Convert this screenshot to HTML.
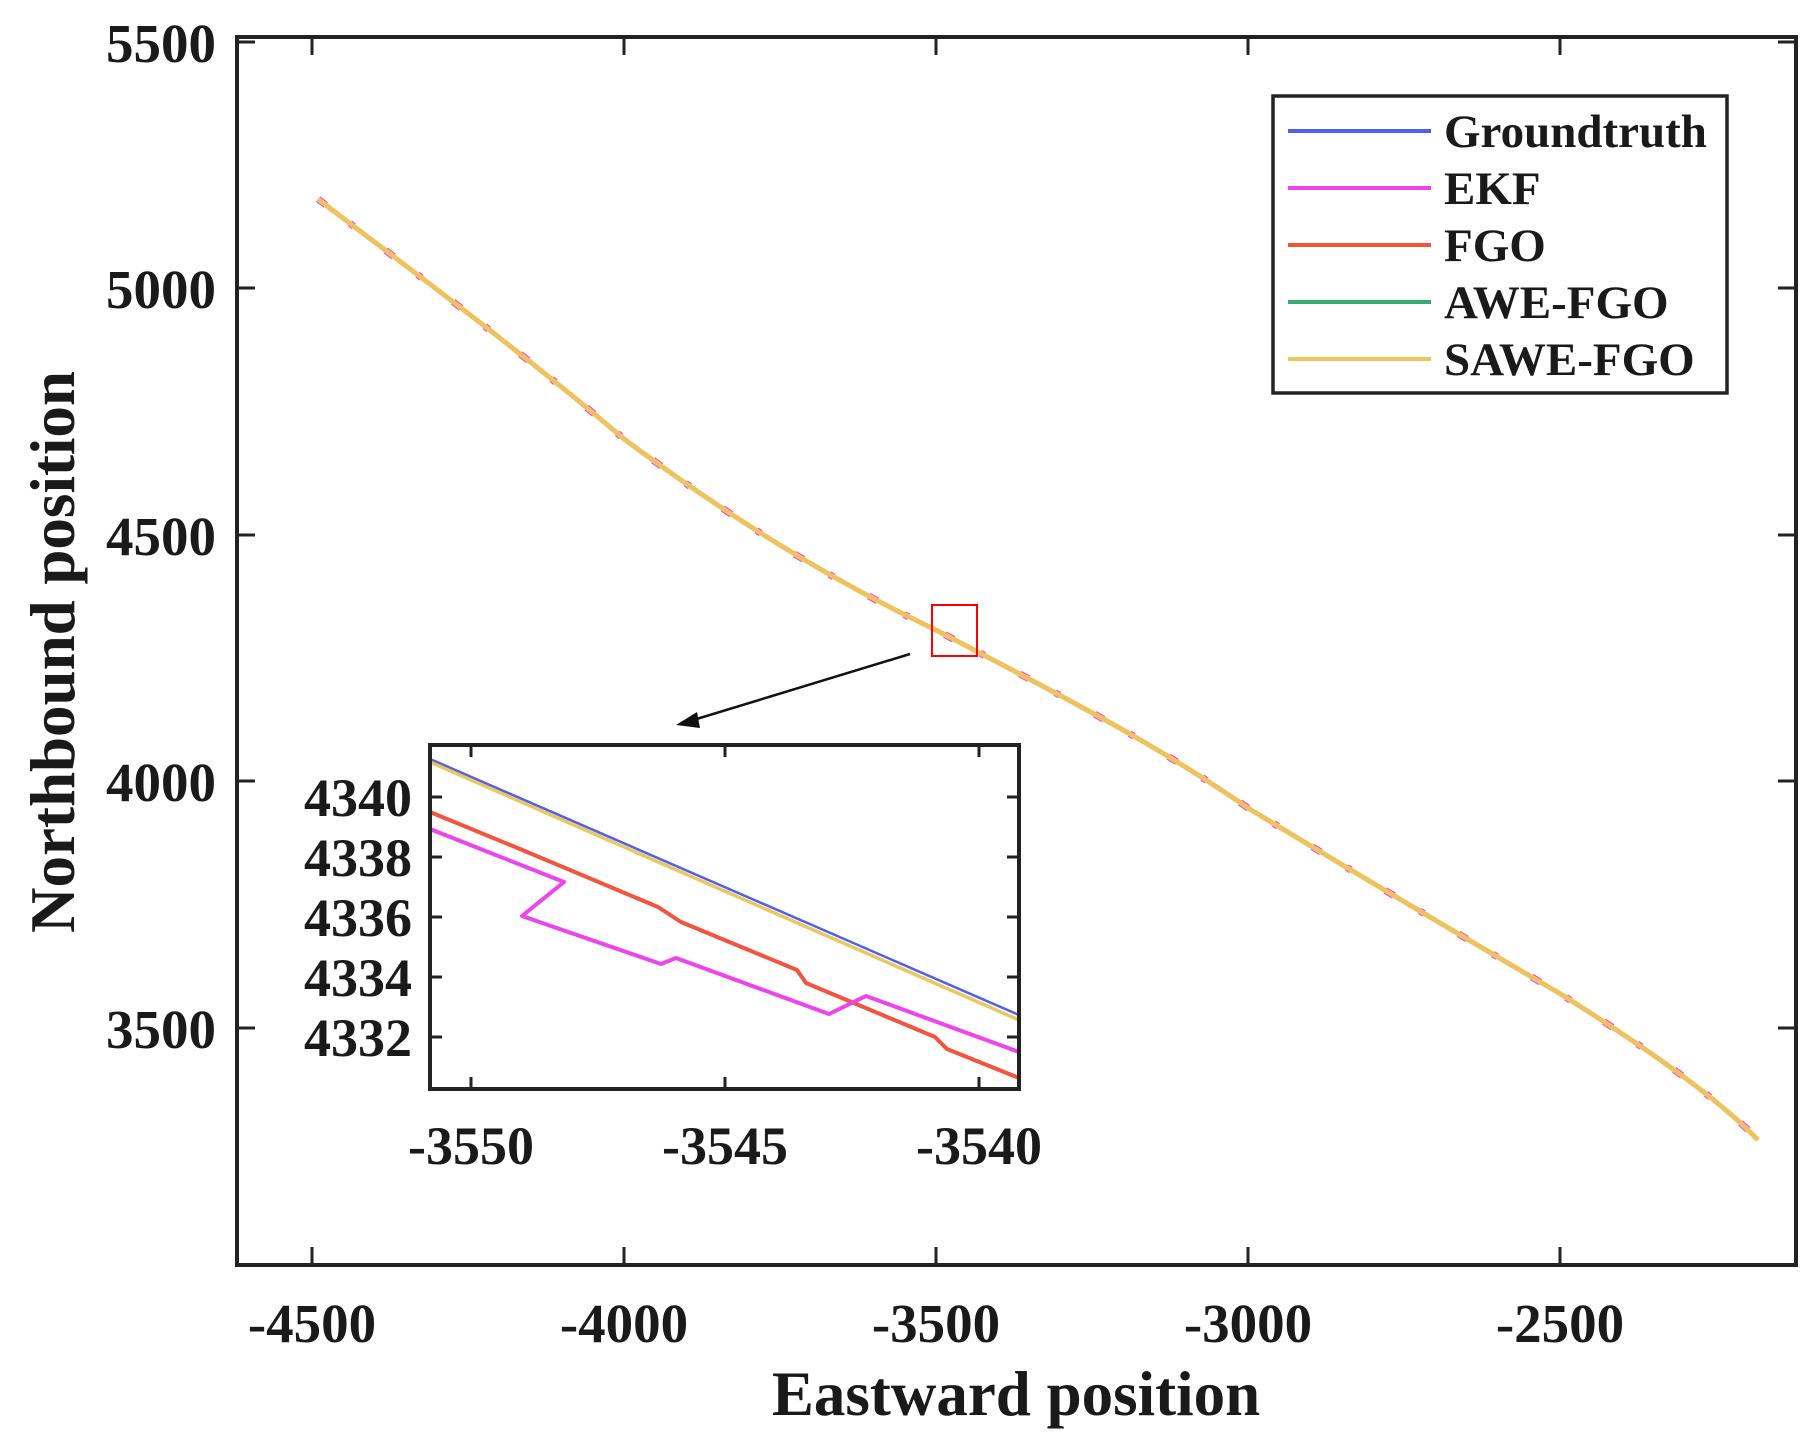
<!DOCTYPE html>
<html><head><meta charset="utf-8"><style>
html,body{margin:0;padding:0;background:#fff;}
svg{display:block;}
text{font-family:"Liberation Serif",serif;font-weight:bold;fill:#1a1a1a;}
</style></head><body>
<svg width="1811" height="1451" viewBox="0 0 1811 1451" xmlns="http://www.w3.org/2000/svg">
<rect width="1811" height="1451" fill="#fff"/>
<g stroke="#222" stroke-width="4" fill="none">
<rect x="237" y="37" width="1559" height="1228"/>
</g>
<g stroke="#222" stroke-width="3">
<line x1="237" y1="42" x2="255" y2="42"/><line x1="1796" y1="42" x2="1778" y2="42"/>
<line x1="237" y1="288" x2="255" y2="288"/><line x1="1796" y1="288" x2="1778" y2="288"/>
<line x1="237" y1="535" x2="255" y2="535"/><line x1="1796" y1="535" x2="1778" y2="535"/>
<line x1="237" y1="781" x2="255" y2="781"/><line x1="1796" y1="781" x2="1778" y2="781"/>
<line x1="237" y1="1028" x2="255" y2="1028"/><line x1="1796" y1="1028" x2="1778" y2="1028"/>
<line x1="312" y1="1265" x2="312" y2="1247"/><line x1="312" y1="37" x2="312" y2="55"/>
<line x1="624" y1="1265" x2="624" y2="1247"/><line x1="624" y1="37" x2="624" y2="55"/>
<line x1="936" y1="1265" x2="936" y2="1247"/><line x1="936" y1="37" x2="936" y2="55"/>
<line x1="1248" y1="1265" x2="1248" y2="1247"/><line x1="1248" y1="37" x2="1248" y2="55"/>
<line x1="1560" y1="1265" x2="1560" y2="1247"/><line x1="1560" y1="37" x2="1560" y2="55"/>
</g>
<g font-size="55" text-anchor="end">
<text x="216" y="62">5500</text>
<text x="216" y="308">5000</text>
<text x="216" y="555">4500</text>
<text x="216" y="801">4000</text>
<text x="216" y="1048">3500</text>
</g>
<g font-size="55" text-anchor="middle">
<text x="312" y="1342">-4500</text>
<text x="624" y="1342">-4000</text>
<text x="936" y="1342">-3500</text>
<text x="1248" y="1342">-3000</text>
<text x="1560" y="1342">-2500</text>
</g>
<text x="1016" y="1415" font-size="63" text-anchor="middle">Eastward position</text>
<text transform="translate(74,652) rotate(-90)" font-size="63" text-anchor="middle">Northbound position</text>
<!-- trajectory -->
<path d="M318,199 C400,262 520,350 624,439 C720,510 820,575 936,630 C1050,690 1150,740 1248,808 C1350,870 1460,935 1559,993 C1650,1050 1720,1100 1758,1140" fill="none" stroke="#ee44ee" stroke-width="7" stroke-dasharray="10 30 5 40"/>
<path d="M318,199 C400,262 520,350 624,439 C720,510 820,575 936,630 C1050,690 1150,740 1248,808 C1350,870 1460,935 1559,993 C1650,1050 1720,1100 1758,1140" fill="none" stroke="#eec25e" stroke-width="5"/>
<rect x="932" y="605" width="45" height="51" fill="none" stroke="#f00" stroke-width="2"/>
<line x1="910" y1="654" x2="690" y2="721" stroke="#111" stroke-width="2.5"/>
<polygon points="676,725 697,712 700,728" fill="#111"/>
<!-- inset -->
<rect x="430" y="745" width="589" height="344" fill="#fff" stroke="#222" stroke-width="4"/>
<defs><clipPath id="c"><rect x="432" y="747" width="585" height="340"/></clipPath></defs>
<g clip-path="url(#c)" fill="none" stroke-linejoin="round">
<line x1="430" y1="759" x2="1019" y2="1015" stroke="#5060ee" stroke-width="2.5"/>
<line x1="430" y1="762" x2="1019" y2="1020" stroke="#eac85e" stroke-width="3.5"/>
<polyline points="430,812 520,849 658,907 681,922 797,970 806,983 935,1037 947,1049 1019,1078" stroke="#f4543e" stroke-width="4"/>
<polyline points="430,829 564,882 522,916 661,964 676,958 829,1014 866,996 1019,1052" stroke="#ee44ee" stroke-width="4"/>
</g>
<g stroke="#222" stroke-width="3">
<line x1="471" y1="1089" x2="471" y2="1077"/><line x1="471" y1="745" x2="471" y2="757"/>
<line x1="725" y1="1089" x2="725" y2="1077"/><line x1="725" y1="745" x2="725" y2="757"/>
<line x1="979" y1="1089" x2="979" y2="1077"/><line x1="979" y1="745" x2="979" y2="757"/>
<line x1="430" y1="797" x2="442" y2="797"/><line x1="1019" y1="797" x2="1007" y2="797"/>
<line x1="430" y1="857" x2="442" y2="857"/><line x1="1019" y1="857" x2="1007" y2="857"/>
<line x1="430" y1="917" x2="442" y2="917"/><line x1="1019" y1="917" x2="1007" y2="917"/>
<line x1="430" y1="977" x2="442" y2="977"/><line x1="1019" y1="977" x2="1007" y2="977"/>
<line x1="430" y1="1037" x2="442" y2="1037"/><line x1="1019" y1="1037" x2="1007" y2="1037"/>
</g>
<g font-size="54" text-anchor="end">
<text x="412" y="816">4340</text>
<text x="412" y="876">4338</text>
<text x="412" y="936">4336</text>
<text x="412" y="996">4334</text>
<text x="412" y="1056">4332</text>
</g>
<g font-size="54" text-anchor="middle">
<text x="471" y="1164">-3550</text>
<text x="725" y="1164">-3545</text>
<text x="979" y="1164">-3540</text>
</g>
<rect x="1273" y="96" width="454" height="297" fill="#fff" stroke="#222" stroke-width="3.5"/>
<g stroke-width="4">
<line x1="1288" y1="131" x2="1431" y2="131" stroke="#5060ee"/>
<line x1="1288" y1="188" x2="1431" y2="188" stroke="#ee44ee"/>
<line x1="1288" y1="245" x2="1431" y2="245" stroke="#f4543e"/>
<line x1="1288" y1="302" x2="1431" y2="302" stroke="#3aaa70"/>
<line x1="1288" y1="359" x2="1431" y2="359" stroke="#eac85e"/>
</g>
<g font-size="47">
<text x="1444" y="147">Groundtruth</text>
<text x="1444" y="204">EKF</text>
<text x="1444" y="261">FGO</text>
<text x="1444" y="318">AWE-FGO</text>
<text x="1444" y="375">SAWE-FGO</text>
</g>
</svg>
</body></html>
